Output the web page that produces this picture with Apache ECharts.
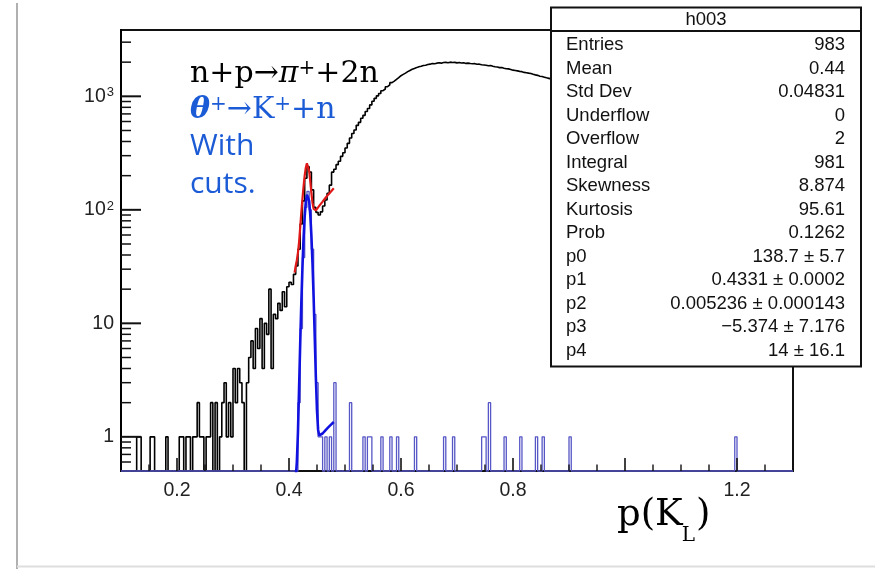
<!DOCTYPE html>
<html><head><meta charset="utf-8">
<script src="https://cdn.jsdelivr.net/npm/echarts@6/dist/echarts.min.js"></script>
<style>html,body{margin:0;padding:0;background:#fff}#c{width:875px;height:569px}</style>
</head><body><div id="c"></div>
<script>
// ---------------- data ----------------
const X_MIN = 0.1, X_MAX = 1.3, Y_MIN = 0.5, Y_MAX = 3840;
const BIN_W = 0.004;           // histogram bin width
const BLACK_START = 0.1;       // first bin edge of black histogram

// black histogram counts, bins of 0.004 from 0.100 to 0.900
const blackCounts = [
  0,0,0,0,0,0,0,1,1,0,
  0,0,0,1,1,0,0,0,0,0,
  1,0,0,0,0,0,1,1,0,1,
  1,0,1,1,2,1,1,0,1,1,
  2,0,2,0,1,2,3,1,2,1,
  4,2,4,3,2,0,3,5,7,4,
  9,6,11,4,10,8,20,4,12,11,
  15,13,19,14,21,23,22,27,32,45,
  75,120,190,240,215,150,105,95,90,96,
  108,122,140,165,215,228,250,268,296,318,
  350,385,430,470,505,555,590,640,680,735,
  780,840,905,960,1010,1060,1120,1160,1215,1260,
  1320,1360,1410,1460,1520,1560,1600,1650,1690,1730,
  1760,1790,1825,1840,1870,1880,1910,1920,1945,1935,
  1960,1975,1960,1985,1990,1975,2000,1985,1990,1970,
  1985,1965,1975,1950,1960,1945,1935,1940,1915,1920,
  1900,1890,1880,1860,1865,1840,1820,1810,1790,1795,
  1770,1750,1745,1725,1700,1690,1675,1660,1650,1625,
  1615,1600,1590,1565,1545,1530,1505,1495,1475,1455,
  1440,1425,1410,1395,1380,1365,1350,1335,1320,1305
];

// blue histogram (h003): non-empty bins [left edge, count]; all other bins 0.100-1.300 are empty
const blueBins = [
  [0.416,2],[0.420,9],[0.424,38],[0.428,105],[0.432,145],[0.436,100],[0.440,45],
  [0.444,12],[0.448,3],[0.452,1],[0.456,1],[0.464,1],[0.472,1],[0.480,3],
  [0.508,2],[0.532,1],[0.540,1],[0.544,1],[0.564,1],[0.580,1],[0.592,1],
  [0.624,1],[0.676,1],[0.692,1],[0.744,1],[0.748,1],[0.756,2],[0.784,1],
  [0.812,1],[0.840,1],[0.852,1],[0.900,1],[1.196,1]
];
const BLUE_END = 1.3;

// red fit curve (fit to the black histogram)
const redFit = [
  [0.410,28],[0.412,32],[0.414,36],[0.416,42],[0.418,52],[0.420,70],[0.422,95],
  [0.424,125],[0.426,160],[0.428,200],[0.430,235],[0.432,257],[0.434,252],
  [0.436,220],[0.438,178],[0.440,140],[0.442,115],[0.444,102],[0.446,98],
  [0.448,99],[0.450,102],[0.455,110],[0.460,118],[0.465,127],[0.470,136],
  [0.475,145],[0.480,155]
];

// blue fit curve (gaus + pol1 on h003)
const blueFit = [
  [0.410,0.38],[0.412,0.43],[0.414,0.6],[0.416,1.1],[0.418,2.7],[0.420,6.6],
  [0.422,15.2],[0.424,31],[0.426,56],[0.428,87],[0.430,117],[0.432,136],
  [0.434,137],[0.436,120],[0.438,90],[0.440,59],[0.442,33.5],[0.444,16.8],
  [0.446,7.5],[0.448,3.3],[0.450,1.7],[0.452,1.15],[0.454,1.03],[0.456,1.02],
  [0.460,1.07],[0.465,1.14],[0.470,1.21],[0.475,1.28],[0.480,1.35]
];

// axis ticks / labels
const xLabelValues = [0.2, 0.4, 0.6, 0.8, 1.2];
const xMajorTicks = [0.2, 0.4, 0.6, 0.8, 1.0, 1.2];
const xMinorTicks = [0.15,0.25,0.3,0.35,0.45,0.5,0.55,0.65,0.7,0.75,0.85,0.9,0.95,1.05,1.1,1.15,1.25];
const yMajorTicks = [1, 10, 100, 1000];
const yMinorTicks = [0.6,0.7,0.8,0.9, 2,3,4,5,6,7,8,9, 20,30,40,50,60,70,80,90,
                     200,300,400,500,600,700,800,900, 2000,3000];

// statistics box
const statTitle = 'h003';
const statLabels = ['Entries','Mean','Std Dev','Underflow','Overflow','Integral','Skewness',
                    'Kurtosis','Prob','p0','p1','p2','p3','p4'];
const statValues = ['983','0.44','0.04831','0','2','981','8.874','95.61','0.1262',
                    '138.7 \u00b1 5.7','0.4331 \u00b1 0.0002','0.005236 \u00b1 0.000143',
                    '\u22125.374 \u00b1 7.176','14 \u00b1 16.1'];

// annotation texts
const noteLine1 = '{r|n+p\u2192}{i|\u03c0}{s|+}{r|+2n}';
const noteLine2 = '{b|\u03b8}{s|+}{r|\u2192K}{s|+}{r|+n}';
const noteLine3 = 'With';
const noteLine4 = 'cuts.';
const xTitleMain = 'p(K', xTitleSub = 'L', xTitleEnd = ')';

// ---------------- build ----------------
function stepPoints(start, w, counts) {
  const pts = counts.map((c, i) => [start + w * i, c > 0 ? c : Y_MIN]);
  const last = counts[counts.length - 1];
  pts.push([start + w * counts.length, last > 0 ? last : Y_MIN]);
  return pts;
}
const blueN = Math.round((BLUE_END - X_MIN) / BIN_W);
const blueCounts = new Array(blueN).fill(0);
blueBins.forEach(([x, c]) => { blueCounts[Math.round((x - X_MIN) / BIN_W)] = c; });

const SANS = '"Liberation Sans", Arial, Helvetica, sans-serif';
const SERIF = '"DejaVu Serif", serif';
const BLUE_TXT = '#1c5bd6';

function measure(str, font) {
  const ctx = document.createElement('canvas').getContext('2d');
  ctx.font = font; return ctx.measureText(str).width;
}

function tickSeries(data, isX, len, lw) {
  return {
    type: 'custom', coordinateSystem: 'cartesian2d', silent: true, clip: false, z: 6,
    data: data.map(v => isX ? [v, Y_MIN] : [X_MIN, v]),
    renderItem: (params, api) => {
      const p = api.coord([api.value(0), api.value(1)]);
      const shape = isX ? {x1: p[0], y1: p[1], x2: p[0], y2: p[1] - len}
                        : {x1: p[0], y1: p[1], x2: p[0] + len, y2: p[1]};
      return {type: 'line', shape, style: {stroke: '#111', lineWidth: lw}};
    }
  };
}

const chart = echarts.init(document.getElementById('c'), null, {renderer: 'canvas'});

// stats box graphics
const BX = 551, BY = 7.5, BW = 310, BH = 359;
const SF = '18.5px ' + SANS;
const statEls = [
  {type: 'rect', shape: {x: BX, y: BY, width: BW, height: BH}, style: {fill: '#fff', stroke: '#111', lineWidth: 2}, z: 100},
  {type: 'line', shape: {x1: BX, y1: 31, x2: BX + BW, y2: 31}, style: {stroke: '#111', lineWidth: 2}, z: 101},
  {type: 'text', z: 101, style: {x: BX + BW / 2, y: 19.5, text: statTitle, font: SF, fill: '#111', align: 'center', verticalAlign: 'middle'}}
];
statLabels.forEach((lab, i) => {
  const y = 45 + 23.5 * i;
  statEls.push({type: 'text', z: 101, style: {x: 566, y, text: lab, font: SF, fill: '#111', align: 'left', verticalAlign: 'middle'}});
  statEls.push({type: 'text', z: 101, style: {x: 845, y, text: statValues[i], font: SF, fill: '#111', align: 'right', verticalAlign: 'middle'}});
});

// x title with subscript
const fMain = '37px ' + SERIF, fSub = '20px ' + SERIF;
const tx0 = 617;
const wMain = measure(xTitleMain, fMain);
const wSub = measure(xTitleSub, fSub);
const titleEls = [
  {type: 'text', z: 101, style: {x: tx0, y: 515, text: xTitleMain, font: fMain, fill: '#000', verticalAlign: 'middle'}},
  {type: 'text', z: 101, style: {x: tx0 + wMain - 1, y: 536, text: xTitleSub, font: fSub, fill: '#000', verticalAlign: 'middle'}},
  {type: 'text', z: 101, style: {x: tx0 + wMain + wSub, y: 515, text: xTitleEnd, font: fMain, fill: '#000', verticalAlign: 'middle'}}
];

const noteEls = [
  {type: 'text', z: 101, style: {x: 190, y: 74, text: noteLine1, verticalAlign: 'middle',
    rich: {r: {font: '30px ' + SERIF, fill: '#000'}, i: {font: 'italic 30px ' + SERIF, fill: '#000'},
           s: {font: '20px ' + SERIF, fill: '#000', verticalAlign: 'top'}}}},
  {type: 'text', z: 101, style: {x: 190, y: 110, text: noteLine2, verticalAlign: 'middle',
    rich: {b: {font: 'italic bold 30px ' + SERIF, fill: BLUE_TXT}, r: {font: '30px ' + SERIF, fill: BLUE_TXT},
           s: {font: '20px ' + SERIF, fill: BLUE_TXT, verticalAlign: 'top'}}}},
  {type: 'text', z: 101, style: {x: 190, y: 146, text: noteLine3, font: '30px "Open Sans", sans-serif', fill: BLUE_TXT, verticalAlign: 'middle'}},
  {type: 'text', z: 101, style: {x: 190, y: 184, text: noteLine4, font: '30px "Open Sans", sans-serif', fill: BLUE_TXT, verticalAlign: 'middle'}}
];

const pageEls = [
  {type: 'line', shape: {x1: 17, y1: 3, x2: 17, y2: 569}, style: {stroke: '#b0b0b0', lineWidth: 2}, z: 0},
  {type: 'line', shape: {x1: 17, y1: 566.5, x2: 875, y2: 566.5}, style: {stroke: '#dedede', lineWidth: 2}, z: 0}
];

const option = {
  animation: false,
  backgroundColor: '#fff',
  grid: {left: 121, right: 82, top: 30, bottom: 98, show: true, borderColor: '#111', borderWidth: 2, containLabel: false},
  xAxis: {
    type: 'value', min: X_MIN, max: X_MAX, interval: 0.1,
    axisLine: {show: true, lineStyle: {color: '#111', width: 1.5}},
    axisTick: {show: false}, splitLine: {show: false},
    axisLabel: {
      color: '#222', fontFamily: SANS, fontSize: 19.5, margin: 10,
      formatter: v => {
        const hit = xLabelValues.find(t => Math.abs(t - v) < 1e-6);
        return hit !== undefined ? hit.toFixed(1) : '';
      }
    }
  },
  yAxis: {
    type: 'log', logBase: 10, min: Y_MIN, max: Y_MAX,
    axisLine: {show: true, lineStyle: {color: '#000', width: 2}},
    axisTick: {show: false}, splitLine: {show: false}, minorTick: {show: false},
    axisLabel: {
      showMinLabel: false, showMaxLabel: false,
      color: '#222', fontFamily: SANS, fontSize: 19.5, margin: 7,
      formatter: v => {
        const hit = yMajorTicks.find(t => Math.abs(t - v) / t < 1e-6);
        if (hit === undefined) return '';
        const e = Math.round(Math.log10(hit));
        return e < 2 ? String(hit) : '10{s|' + e + '}';
      },
      rich: {s: {fontSize: 13, fontFamily: SANS, color: '#222', verticalAlign: 'top', padding: [0, 0, 0, 1]}}
    }
  },
  series: [
    {type: 'line', name: 'all', data: stepPoints(BLACK_START, BIN_W, blackCounts), step: 'end', showSymbol: false,
     clip: true, lineStyle: {color: '#000', width: 1.6}, z: 2, silent: true},
    {type: 'line', name: 'h003', data: stepPoints(X_MIN, BIN_W, blueCounts), step: 'end', showSymbol: false,
     clip: false, lineStyle: {color: '#5656c6', width: 1.3}, z: 3, silent: true},
    {type: 'line', name: 'fitRed', data: redFit, showSymbol: false, smooth: false,
     lineStyle: {color: '#e01818', width: 2.2}, z: 4, silent: true},
    {type: 'line', name: 'fitBlue', data: blueFit, showSymbol: false, smooth: false,
     lineStyle: {color: '#1212e0', width: 2.6}, z: 5, silent: true},
    tickSeries(xMajorTicks, true, 13, 1.6),
    tickSeries(xMinorTicks, true, 6.5, 1.4),
    tickSeries(yMajorTicks, false, 20, 2),
    tickSeries(yMinorTicks, false, 10, 1.5)
  ],
  graphic: {elements: pageEls.concat(noteEls, titleEls, statEls)}
};
chart.setOption(option);
</script>
</body></html>
